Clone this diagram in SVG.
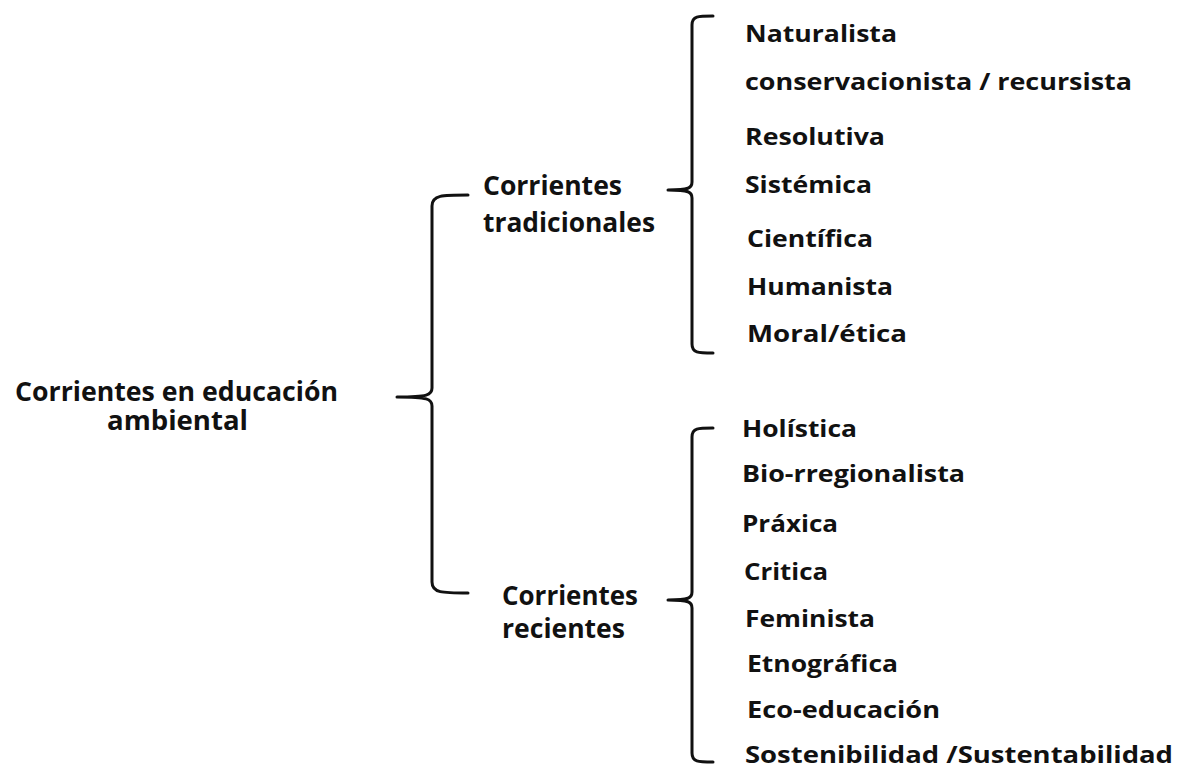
<svg xmlns="http://www.w3.org/2000/svg" width="1178" height="770" viewBox="0 0 1178 770">
<style>
text{font-family:"Open Sans","Liberation Sans",sans-serif;font-weight:700;fill:#111;}
.l{font-size:26px;}
.m{font-size:26px;}
.r{font-size:24px;}
.brace{fill:none;stroke:#111;stroke-width:3;stroke-linecap:round;stroke-linejoin:round;}
</style>
<rect width="1178" height="770" fill="#fff"/>
<g id="connectors">
<path class="brace" d="M468,195 C442,195 432,195 432,206 L432,388 C432,395 428,397 397,397 C428,397 432,399 432,406 L432,582 C432,593 442,593 468,593"/>
<path class="brace" d="M713,16 C698,16 692,16 692,25 L692,182 C692,188 689,190 668,190 C689,190 692,192 692,198 L692,344 C692,353 698,353 713,353"/>
<path class="brace" d="M713,428 C698,428 692,428 692,437 L692,592 C692,598 689,600 668,600 C689,600 692,602 692,608 L692,753 C692,762 698,762 713,762"/>
</g>
<g id="root">
<text class="l" x="15" y="401" textLength="323" lengthAdjust="spacingAndGlyphs">Corrientes en educación</text>
<text class="l" x="107" y="430" textLength="141" lengthAdjust="spacingAndGlyphs">ambiental</text>
</g>
<g id="tradicionales">
<text class="m" x="483" y="195" textLength="139" lengthAdjust="spacingAndGlyphs">Corrientes</text>
<text class="m" x="483" y="232" textLength="172" lengthAdjust="spacingAndGlyphs">tradicionales</text>
</g>
<g id="recientes">
<text class="m" x="502" y="605" textLength="136" lengthAdjust="spacingAndGlyphs">Corrientes</text>
<text class="m" x="502" y="638" textLength="123" lengthAdjust="spacingAndGlyphs">recientes</text>
</g>
<g id="naturalista"><text class="r" x="745" y="42" textLength="152" lengthAdjust="spacingAndGlyphs">Naturalista</text></g>
<g id="conservacionista"><text class="r" x="745" y="90" textLength="387" lengthAdjust="spacingAndGlyphs">conservacionista / recursista</text></g>
<g id="resolutiva"><text class="r" x="745" y="145" textLength="140" lengthAdjust="spacingAndGlyphs">Resolutiva</text></g>
<g id="sistemica"><text class="r" x="745" y="193" textLength="127" lengthAdjust="spacingAndGlyphs">Sistémica</text></g>
<g id="cientifica"><text class="r" x="747" y="247" textLength="126" lengthAdjust="spacingAndGlyphs">Científica</text></g>
<g id="humanista"><text class="r" x="747" y="295" textLength="146" lengthAdjust="spacingAndGlyphs">Humanista</text></g>
<g id="moral"><text class="r" x="747" y="342" textLength="160" lengthAdjust="spacingAndGlyphs">Moral/ética</text></g>
<g id="holistica"><text class="r" x="742" y="437" textLength="115" lengthAdjust="spacingAndGlyphs">Holística</text></g>
<g id="biorregionalista"><text class="r" x="742" y="482" textLength="223" lengthAdjust="spacingAndGlyphs">Bio-rregionalista</text></g>
<g id="praxica"><text class="r" x="742" y="532" textLength="96" lengthAdjust="spacingAndGlyphs">Práxica</text></g>
<g id="critica"><text class="r" x="744" y="580" textLength="84" lengthAdjust="spacingAndGlyphs">Critica</text></g>
<g id="feminista"><text class="r" x="745" y="627" textLength="130" lengthAdjust="spacingAndGlyphs">Feminista</text></g>
<g id="etnografica"><text class="r" x="747" y="672" textLength="151" lengthAdjust="spacingAndGlyphs">Etnográfica</text></g>
<g id="ecoeducacion"><text class="r" x="747" y="718" textLength="193" lengthAdjust="spacingAndGlyphs">Eco-educación</text></g>
<g id="sostenibilidad"><text class="r" x="745" y="763" textLength="428" lengthAdjust="spacingAndGlyphs">Sostenibilidad /Sustentabilidad</text></g>
</svg>
